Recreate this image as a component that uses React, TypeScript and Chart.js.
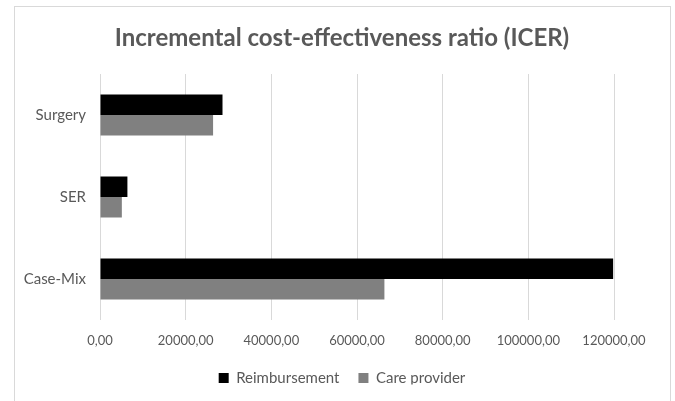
import React, { useEffect, useRef } from "react";
import { Chart, registerables } from "chart.js";

Chart.register(...registerables);

const categories = ["Surgery", "SER", "Case-Mix"];
const reimbursement = [28600, 6400, 119800];
const careProvider = [26400, 5100, 66400];
const xTicks = [0, 20000, 40000, 60000, 80000, 100000, 120000];

const TEXT = "#595959";
const GRID = "#d9d9d9";
const FONT = "Lato, 'Open Sans', sans-serif";

const fmt = (v: number) => v.toFixed(2).replace(".", ",");

// thin frame around the whole chart
const framePlugin = {
  id: "frame",
  beforeDraw(chart: any) {
    const { ctx } = chart;
    ctx.save();
    ctx.fillStyle = "#ffffff";
    ctx.fillRect(0, 0, chart.width, chart.height);
    ctx.strokeStyle = "#d9d9d9";
    ctx.lineWidth = 1;
    ctx.strokeRect(14.5, 6.5, 656, 420);
    ctx.restore();
  },
};

export default function App() {
  const ref = useRef<HTMLCanvasElement | null>(null);

  useEffect(() => {
    document.body.style.margin = "0";
    const chart = new Chart(ref.current!, {
      type: "bar",
      data: {
        labels: categories,
        datasets: [
          {
            label: "Reimbursement",
            data: reimbursement,
            backgroundColor: "#000000",
            borderWidth: 0,
            categoryPercentage: 0.5,
            barPercentage: 1,
          },
          {
            label: "Care provider",
            data: careProvider,
            backgroundColor: "#808080",
            borderWidth: 0,
            categoryPercentage: 0.5,
            barPercentage: 1,
          },
        ],
      },
      options: {
        indexAxis: "y",
        animation: false,
        responsive: false,
        layout: { padding: { left: 14, right: 5, top: 0, bottom: 16.5 } },
        scales: {
          x: {
            min: 0,
            max: 120000,
            afterBuildTicks: (s: any) => {
              s.ticks = xTicks.map((v) => ({ value: v }));
            },
            afterFit: (s: any) => {
              s.height = 31.5;
            },
            grid: { color: GRID, lineWidth: 1, drawTicks: false },
            border: { display: false },
            ticks: {
              color: TEXT,
              font: { family: FONT, size: 13 },
              padding: 13,
              maxRotation: 0,
              callback: (v: any) => fmt(Number(v)),
            },
          },
          y: {
            afterFit: (s: any) => {
              s.width = 86;
            },
            grid: { display: false, drawTicks: false },
            border: { display: false },
            ticks: {
              color: TEXT,
              font: { family: FONT, size: 15 },
              padding: 14,
            },
          },
          // empty right-hand gutter so the plot ends at 120000 while title/legend stay centred
          gutter: {
            type: "category",
            axis: "y",
            position: "right",
            afterFit: (s: any) => {
              s.width = 56;
            },
            grid: { display: false, drawTicks: false },
            border: { display: false },
            ticks: { display: false },
          },
        },
        plugins: {
          title: {
            display: true,
            text: "Incremental cost-effectiveness ratio (ICER)",
            color: TEXT,
            font: { family: FONT, size: 24, weight: "bold" },
            padding: { top: 23.6, bottom: 21.6 },
          },
          legend: {
            position: "bottom",
            maxHeight: 33,
            labels: {
              color: TEXT,
              font: { family: FONT, size: 15 },
              boxWidth: 10,
              boxHeight: 10,
              padding: 19,
            },
          },
          tooltip: { enabled: false },
        },
      },
      plugins: [framePlugin],
    });
    return () => chart.destroy();
  }, []);

  return (
    <div style={{ width: 675, height: 401 }}>
      <canvas ref={ref} width={675} height={401} style={{ display: "block" }} />
    </div>
  );
}
